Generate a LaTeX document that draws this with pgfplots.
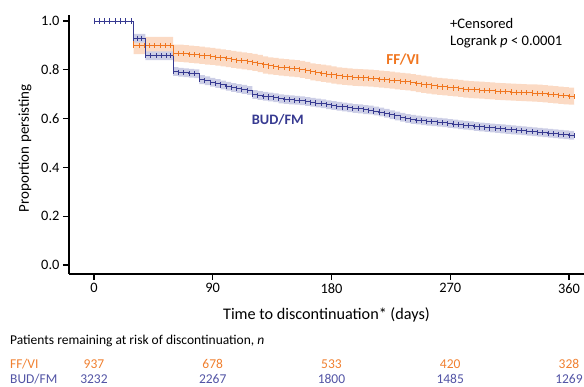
\documentclass[border=0pt]{standalone}
\usepackage{fontspec}
\setmainfont{Carlito}
\usepackage{pgfplots}
\usepackage{pgfplotstable}
\pgfplotsset{compat=1.18}
\usepgfplotslibrary{fillbetween}
\definecolor{ffvi}{RGB}{240,118,32}
\definecolor{budfm}{RGB}{55,58,145}
\definecolor{ffviband}{RGB}{251,218,196}
\definecolor{budband}{RGB}{204,206,230}
\definecolor{ffvitxt}{RGB}{240,128,48}
\definecolor{budtxt}{RGB}{82,84,165}

\pgfplotstableread{
t s
0 1.000
4 1.000
8 1.000
12 1.000
16 1.000
20 1.000
24 1.000
28 1.000
30 0.900
34 0.900
38 0.900
42 0.900
46 0.900
50 0.900
54 0.900
58 0.900
60 0.869
64 0.868
68 0.866
72 0.864
76 0.862
80 0.860
84 0.857
88 0.855
92 0.852
96 0.849
100 0.846
104 0.843
108 0.840
112 0.837
116 0.834
120 0.831
124 0.826
128 0.820
132 0.816
136 0.814
140 0.811
144 0.809
148 0.807
152 0.805
156 0.802
160 0.798
164 0.792
168 0.789
172 0.786
176 0.783
180 0.779
184 0.775
188 0.773
192 0.771
196 0.769
200 0.768
204 0.767
208 0.766
212 0.764
216 0.762
220 0.760
224 0.758
228 0.755
232 0.753
236 0.751
240 0.748
244 0.744
248 0.741
252 0.738
256 0.734
260 0.732
264 0.730
268 0.728
272 0.726
276 0.724
280 0.721
284 0.719
288 0.718
292 0.717
296 0.715
300 0.714
304 0.712
308 0.711
312 0.710
316 0.709
320 0.708
324 0.707
328 0.706
332 0.705
336 0.704
340 0.702
344 0.700
348 0.698
352 0.696
356 0.694
360 0.692
364 0.690
}\ffvidata

\pgfplotstableread{
t s
0 1.000
4 1.000
8 1.000
12 1.000
16 1.000
20 1.000
24 1.000
28 1.000
30 0.930
33 0.930
36 0.930
39 0.858
43 0.858
47 0.858
51 0.858
55 0.858
58 0.858
60 0.793
64 0.790
68 0.788
72 0.786
76 0.784
80 0.760
84 0.755
88 0.749
92 0.744
96 0.738
100 0.733
104 0.728
108 0.724
112 0.720
116 0.715
120 0.699
124 0.695
128 0.692
132 0.689
136 0.686
140 0.681
144 0.679
148 0.677
152 0.675
156 0.673
160 0.670
164 0.667
168 0.664
172 0.661
176 0.657
180 0.654
184 0.651
188 0.648
192 0.645
196 0.642
200 0.640
204 0.637
208 0.635
212 0.631
216 0.627
220 0.622
224 0.616
228 0.611
232 0.606
236 0.601
240 0.597
244 0.594
248 0.591
252 0.589
256 0.587
260 0.585
264 0.583
268 0.580
272 0.578
276 0.575
280 0.573
284 0.571
288 0.568
292 0.566
296 0.564
300 0.562
304 0.560
308 0.558
312 0.556
316 0.554
320 0.552
324 0.550
328 0.548
332 0.546
336 0.544
340 0.542
344 0.540
348 0.538
352 0.536
356 0.534
360 0.532
364 0.530
}\budfmdata

\begin{document}
\begin{tikzpicture}
\begin{axis}[
  scale only axis, width=515pt, height=259pt,
  xmin=-18.9, xmax=371.4, ymin=-0.037, ymax=1.025,
  axis lines=left, axis line style={-, line width=1.5pt},
  xtick={0,90,180,270,360}, ytick={0,0.2,0.4,0.6,0.8,1.0},
  tick align=outside, major tick length=6pt,
  tick style={line width=1.2pt, black},
  yticklabel style={/pgf/number format/.cd, fixed, fixed zerofill, precision=1},
  /pgf/number format/assume math mode=true,
  ticklabel style={font=\fontsize{14.4}{16}\selectfont},
  clip=false,
]
\coordinate (O) at (rel axis cs:0,0);
% bands
\addplot[name path=fu, draw=none, const plot, forget plot] table[x=t, y expr={\thisrow{t}<29 ? \thisrow{s} : \thisrow{s}+0.035}] {\ffvidata};
\addplot[name path=fl, draw=none, const plot, forget plot] table[x=t, y expr={\thisrow{t}<29 ? \thisrow{s} : \thisrow{s}-0.035}] {\ffvidata};
\addplot[ffviband, forget plot] fill between[of=fu and fl];
\addplot[name path=bu, draw=none, const plot, forget plot] table[x=t, y expr={\thisrow{t}<29 ? \thisrow{s} : \thisrow{s}+0.018}] {\budfmdata};
\addplot[name path=bl, draw=none, const plot, forget plot] table[x=t, y expr={\thisrow{t}<29 ? \thisrow{s} : \thisrow{s}-0.018}] {\budfmdata};
\addplot[budband, forget plot] fill between[of=bu and bl];
% curves
\addplot[ffvi, line width=1pt, const plot, mark=|, mark size=2.6pt, mark options={line width=0.6pt}] table[x=t, y=s] {\ffvidata};
\addplot[budfm, line width=1pt, const plot, mark=|, mark size=2.6pt, mark options={line width=0.6pt}] table[x=t, y=s] {\budfmdata};
% texts
\node[anchor=west, font=\fontsize{14.6}{16}\selectfont, inner sep=0pt] at (axis cs:269.8,0.992) {+Censored};
\node[anchor=west, font=\fontsize{14.6}{16}\selectfont, inner sep=0pt] at (axis cs:269.8,0.914) {Logrank \textit{p} < 0.0001};
\node[font=\bfseries\fontsize{15.2}{17}\selectfont, text=ffvi] at (axis cs:234.2,0.844) {FF/VI};
\node[font=\bfseries\fontsize{14.4}{16}\selectfont, text=budfm] at (axis cs:139.3,0.594) {BUD/FM};
\node[rotate=90, font=\fontsize{15}{17}\selectfont] at (rel axis cs:-0.0854,0.486) {Proportion persisting};
\node[font=\fontsize{16.2}{18}\selectfont] at (rel axis cs:0.500,-0.158) {Time to discontinuation* (days)};
\node[anchor=west, inner sep=0pt, font=\fontsize{13.5}{15}\selectfont] at (rel axis cs:-0.1146,-0.2587) {Patients remaining at risk of discontinuation, \textit{n}};
\node[anchor=west, inner sep=0pt, font=\fontsize{13.5}{15}\selectfont, text=ffvitxt] at (rel axis cs:-0.1146,-0.3475) {FF/VI};
\node[anchor=west, inner sep=0pt, font=\fontsize{13.5}{15}\selectfont, text=budtxt] at (rel axis cs:-0.1146,-0.4054) {BUD/FM};
\node[inner sep=0pt, font=\fontsize{13.5}{15}\selectfont, text=ffvitxt] at ({axis cs:0,0} |- {rel axis cs:0,-0.3475}) {937};
\node[inner sep=0pt, font=\fontsize{13.5}{15}\selectfont, text=ffvitxt] at ({axis cs:90,0} |- {rel axis cs:0,-0.3475}) {678};
\node[inner sep=0pt, font=\fontsize{13.5}{15}\selectfont, text=ffvitxt] at ({axis cs:180,0} |- {rel axis cs:0,-0.3475}) {533};
\node[inner sep=0pt, font=\fontsize{13.5}{15}\selectfont, text=ffvitxt] at ({axis cs:270,0} |- {rel axis cs:0,-0.3475}) {420};
\node[inner sep=0pt, font=\fontsize{13.5}{15}\selectfont, text=ffvitxt] at ({axis cs:360,0} |- {rel axis cs:0,-0.3475}) {328};
\node[inner sep=0pt, font=\fontsize{13.5}{15}\selectfont, text=budtxt] at ({axis cs:0,0} |- {rel axis cs:0,-0.4054}) {3232};
\node[inner sep=0pt, font=\fontsize{13.5}{15}\selectfont, text=budtxt] at ({axis cs:90,0} |- {rel axis cs:0,-0.4054}) {2267};
\node[inner sep=0pt, font=\fontsize{13.5}{15}\selectfont, text=budtxt] at ({axis cs:180,0} |- {rel axis cs:0,-0.4054}) {1800};
\node[inner sep=0pt, font=\fontsize{13.5}{15}\selectfont, text=budtxt] at ({axis cs:270,0} |- {rel axis cs:0,-0.4054}) {1485};
\node[inner sep=0pt, font=\fontsize{13.5}{15}\selectfont, text=budtxt] at ({axis cs:360,0} |- {rel axis cs:0,-0.4054}) {1269};
\end{axis}
\pgfresetboundingbox
\path (O) ++(-69pt,-113pt) rectangle ++(584pt,387pt);
\end{tikzpicture}
\end{document}
